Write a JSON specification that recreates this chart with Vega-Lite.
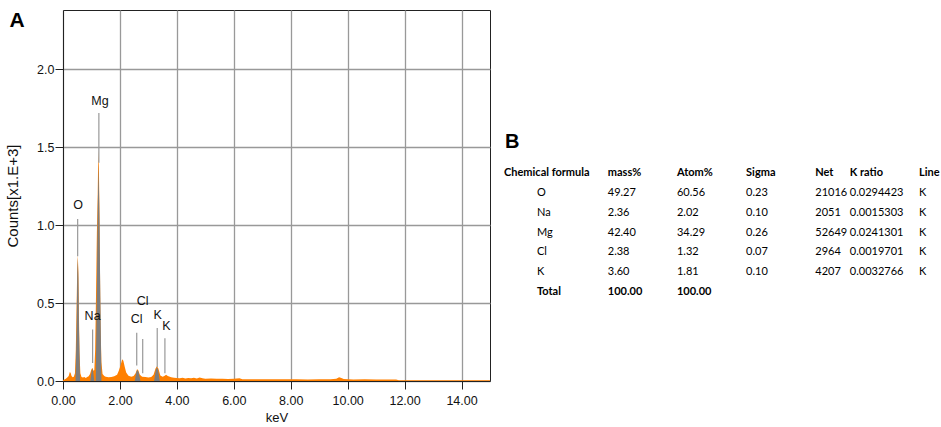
{
  "$schema": "https://vega.github.io/schema/vega-lite/v6.json",
  "background": "white",
  "padding": {"left": 5, "top": 9, "right": 0, "bottom": 0},
  "config": {"font": "Liberation Sans", "view": {"stroke": null}},
  "spacing": 13,
  "datasets": {
    "spectrum": [
      {"keV": 0.0, "counts": 0.006}, {"keV": 0.05, "counts": 0.01}, {"keV": 0.1, "counts": 0.015}, {"keV": 0.15, "counts": 0.022},
      {"keV": 0.2, "counts": 0.032}, {"keV": 0.24, "counts": 0.058}, {"keV": 0.27, "counts": 0.052}, {"keV": 0.3, "counts": 0.032},
      {"keV": 0.34, "counts": 0.024}, {"keV": 0.38, "counts": 0.028}, {"keV": 0.42, "counts": 0.05}, {"keV": 0.45, "counts": 0.2},
      {"keV": 0.48, "counts": 0.5}, {"keV": 0.5, "counts": 0.72}, {"keV": 0.52, "counts": 0.81}, {"keV": 0.54, "counts": 0.7},
      {"keV": 0.56, "counts": 0.42}, {"keV": 0.58, "counts": 0.18}, {"keV": 0.61, "counts": 0.05}, {"keV": 0.65, "counts": 0.025},
      {"keV": 0.7, "counts": 0.022}, {"keV": 0.75, "counts": 0.026}, {"keV": 0.8, "counts": 0.02}, {"keV": 0.85, "counts": 0.025},
      {"keV": 0.9, "counts": 0.03}, {"keV": 0.95, "counts": 0.045}, {"keV": 0.99, "counts": 0.07}, {"keV": 1.03, "counts": 0.085},
      {"keV": 1.07, "counts": 0.065}, {"keV": 1.1, "counts": 0.07}, {"keV": 1.13, "counts": 0.2}, {"keV": 1.16, "counts": 0.55},
      {"keV": 1.19, "counts": 0.95}, {"keV": 1.22, "counts": 1.2}, {"keV": 1.24, "counts": 1.48}, {"keV": 1.26, "counts": 1.38},
      {"keV": 1.28, "counts": 1.1}, {"keV": 1.3, "counts": 0.7}, {"keV": 1.32, "counts": 0.35}, {"keV": 1.35, "counts": 0.12},
      {"keV": 1.39, "counts": 0.045}, {"keV": 1.45, "counts": 0.032}, {"keV": 1.5, "counts": 0.028}, {"keV": 1.6, "counts": 0.024},
      {"keV": 1.7, "counts": 0.026}, {"keV": 1.8, "counts": 0.03}, {"keV": 1.9, "counts": 0.04}, {"keV": 1.96, "counts": 0.065},
      {"keV": 2.02, "counts": 0.1}, {"keV": 2.08, "counts": 0.14}, {"keV": 2.12, "counts": 0.13}, {"keV": 2.17, "counts": 0.09},
      {"keV": 2.22, "counts": 0.055}, {"keV": 2.3, "counts": 0.034}, {"keV": 2.4, "counts": 0.028}, {"keV": 2.48, "counts": 0.032},
      {"keV": 2.55, "counts": 0.05}, {"keV": 2.6, "counts": 0.075}, {"keV": 2.64, "counts": 0.07}, {"keV": 2.7, "counts": 0.04},
      {"keV": 2.78, "counts": 0.028}, {"keV": 2.9, "counts": 0.025}, {"keV": 3.0, "counts": 0.023}, {"keV": 3.1, "counts": 0.025},
      {"keV": 3.18, "counts": 0.04}, {"keV": 3.25, "counts": 0.08}, {"keV": 3.3, "counts": 0.095}, {"keV": 3.35, "counts": 0.08},
      {"keV": 3.42, "counts": 0.035}, {"keV": 3.5, "counts": 0.027}, {"keV": 3.56, "counts": 0.032}, {"keV": 3.62, "counts": 0.04},
      {"keV": 3.68, "counts": 0.032}, {"keV": 3.8, "counts": 0.024}, {"keV": 3.9, "counts": 0.021}, {"keV": 4.0, "counts": 0.02},
      {"keV": 4.1, "counts": 0.018}, {"keV": 4.2, "counts": 0.021}, {"keV": 4.3, "counts": 0.016}, {"keV": 4.4, "counts": 0.02},
      {"keV": 4.5, "counts": 0.017}, {"keV": 4.6, "counts": 0.021}, {"keV": 4.7, "counts": 0.016}, {"keV": 4.8, "counts": 0.022},
      {"keV": 4.9, "counts": 0.017}, {"keV": 5.0, "counts": 0.015}, {"keV": 5.2, "counts": 0.016}, {"keV": 5.4, "counts": 0.014},
      {"keV": 5.6, "counts": 0.015}, {"keV": 5.8, "counts": 0.013}, {"keV": 6.0, "counts": 0.014}, {"keV": 6.2, "counts": 0.018},
      {"keV": 6.3, "counts": 0.012}, {"keV": 6.6, "counts": 0.012}, {"keV": 7.0, "counts": 0.011}, {"keV": 7.4, "counts": 0.012},
      {"keV": 7.8, "counts": 0.011}, {"keV": 8.2, "counts": 0.011}, {"keV": 8.6, "counts": 0.01}, {"keV": 9.0, "counts": 0.011},
      {"keV": 9.4, "counts": 0.012}, {"keV": 9.6, "counts": 0.015}, {"keV": 9.7, "counts": 0.024}, {"keV": 9.78, "counts": 0.02},
      {"keV": 9.86, "counts": 0.013}, {"keV": 10.2, "counts": 0.01}, {"keV": 10.6, "counts": 0.011}, {"keV": 11.0, "counts": 0.01},
      {"keV": 11.4, "counts": 0.01}, {"keV": 11.7, "counts": 0.009}, {"keV": 11.8, "counts": 0.005}, {"keV": 12.5, "counts": 0.005},
      {"keV": 13.5, "counts": 0.005}, {"keV": 15.0, "counts": 0.005}
    ],
    "peaks": [
      {"element": "O", "keV": 0.44, "counts": 0}, {"element": "O", "keV": 0.48, "counts": 0.35}, {"element": "O", "keV": 0.5, "counts": 0.68},
      {"element": "O", "keV": 0.52, "counts": 0.79}, {"element": "O", "keV": 0.54, "counts": 0.66}, {"element": "O", "keV": 0.56, "counts": 0.35},
      {"element": "O", "keV": 0.6, "counts": 0},
      {"element": "Na", "keV": 0.96, "counts": 0}, {"element": "Na", "keV": 1.0, "counts": 0.06}, {"element": "Na", "keV": 1.03, "counts": 0.08},
      {"element": "Na", "keV": 1.06, "counts": 0.06}, {"element": "Na", "keV": 1.1, "counts": 0},
      {"element": "Mg", "keV": 1.15, "counts": 0}, {"element": "Mg", "keV": 1.19, "counts": 0.6}, {"element": "Mg", "keV": 1.22, "counts": 1.1},
      {"element": "Mg", "keV": 1.25, "counts": 1.4}, {"element": "Mg", "keV": 1.28, "counts": 1.05}, {"element": "Mg", "keV": 1.31, "counts": 0.55},
      {"element": "Mg", "keV": 1.35, "counts": 0},
      {"element": "Cl", "keV": 2.52, "counts": 0}, {"element": "Cl", "keV": 2.58, "counts": 0.06}, {"element": "Cl", "keV": 2.62, "counts": 0.07},
      {"element": "Cl", "keV": 2.66, "counts": 0.055}, {"element": "Cl", "keV": 2.72, "counts": 0},
      {"element": "K", "keV": 3.2, "counts": 0}, {"element": "K", "keV": 3.26, "counts": 0.07}, {"element": "K", "keV": 3.3, "counts": 0.09},
      {"element": "K", "keV": 3.34, "counts": 0.07}, {"element": "K", "keV": 3.4, "counts": 0}
    ],
    "labels": [
      {"element": "O", "lineKeV": 0.515, "top": 1.04, "bottom": 0.8, "textKeV": 0.53, "textY": 1.13},
      {"element": "Mg", "lineKeV": 1.26, "top": 1.72, "bottom": 1.4, "textKeV": 1.3, "textY": 1.795},
      {"element": "Na", "lineKeV": 1.04, "top": 0.33, "bottom": 0.115, "textKeV": 1.04, "textY": 0.417},
      {"element": "Cl", "lineKeV": 2.59, "top": 0.31, "bottom": 0.1, "textKeV": 2.59, "textY": 0.4},
      {"element": "Cl", "lineKeV": 2.8, "top": 0.27, "bottom": 0.05, "textKeV": 2.8, "textY": 0.515},
      {"element": "K", "lineKeV": 3.31, "top": 0.34, "bottom": 0.09, "textKeV": 3.33, "textY": 0.425},
      {"element": "K", "lineKeV": 3.58, "top": 0.275, "bottom": 0.05, "textKeV": 3.63, "textY": 0.355}
    ],
    "table": [
      {"formula": "O", "mass%": "49.27", "Atom%": "60.56", "Sigma": "0.23", "Net": "21016", "K ratio": "0.0294423", "Line": "K"},
      {"formula": "Na", "mass%": "2.36", "Atom%": "2.02", "Sigma": "0.10", "Net": "2051", "K ratio": "0.0015303", "Line": "K"},
      {"formula": "Mg", "mass%": "42.40", "Atom%": "34.29", "Sigma": "0.26", "Net": "52649", "K ratio": "0.0241301", "Line": "K"},
      {"formula": "Cl", "mass%": "2.38", "Atom%": "1.32", "Sigma": "0.07", "Net": "2964", "K ratio": "0.0019701", "Line": "K"},
      {"formula": "K", "mass%": "3.60", "Atom%": "1.81", "Sigma": "0.10", "Net": "4207", "K ratio": "0.0032766", "Line": "K"},
      {"formula": "Total", "mass%": "100.00", "Atom%": "100.00"}
    ],
    "columns": [
      {"col": "Chemical formula"}, {"col": "mass%"}, {"col": "Atom%"}, {"col": "Sigma"}, {"col": "Net"}, {"col": "K ratio"}, {"col": "Line"}
    ]
  },
  "hconcat": [
    {
      "width": 427,
      "height": 371,
      "title": {"text": "A", "anchor": "start", "frame": "bounds", "offset": -21, "fontSize": 21, "fontWeight": "bold", "font": "Liberation Sans", "color": "#000", "dx": 4},
      "view": {"stroke": "#222", "strokeWidth": 1},
      "layer": [
        {
          "data": {"name": "spectrum"},
          "mark": {"type": "area", "color": "#ff8000"},
          "encoding": {
            "x": {"field": "keV", "type": "quantitative", "title": "keV",
              "scale": {"domain": [0, 15], "nice": false, "zero": false},
              "axis": {"values": [0, 2, 4, 6, 8, 10, 12, 14], "format": ".2f", "grid": true, "gridColor": "#999", "gridWidth": 1.3,
                "domainColor": "#222", "tickColor": "#222", "tickSize": 8, "labelFontSize": 12.5, "labelColor": "#111", "labelPadding": 5,
                "labelFlush": false, "titleFontSize": 13, "titleFontWeight": "normal", "titleColor": "#111", "titlePadding": 5}},
            "y": {"field": "counts", "type": "quantitative", "title": "Counts[x1.E+3]",
              "scale": {"domain": [0, 2.38], "nice": false},
              "axis": {"values": [0, 0.5, 1, 1.5, 2], "format": ".1f", "grid": true, "gridColor": "#999", "gridWidth": 1.3,
                "domainColor": "#222", "tickColor": "#222", "tickSize": 8, "labelFontSize": 12.5, "labelColor": "#111", "labelPadding": 1,
                "labelFlush": false, "titleFontSize": 15, "titleFontWeight": "normal", "titleColor": "#111", "titlePadding": 16}}
          }
        },
        {
          "data": {"name": "peaks"},
          "mark": {"type": "area", "color": "#7d7d7d"},
          "encoding": {
            "x": {"field": "keV", "type": "quantitative"},
            "y": {"field": "counts", "type": "quantitative"},
            "detail": {"field": "element"}
          }
        },
        {
          "data": {"name": "labels"},
          "mark": {"type": "rule", "color": "#999", "strokeWidth": 1.2},
          "encoding": {
            "x": {"field": "lineKeV", "type": "quantitative"},
            "y": {"field": "top", "type": "quantitative"},
            "y2": {"field": "bottom"}
          }
        },
        {
          "data": {"name": "labels"},
          "mark": {"type": "text", "fontSize": 12.5, "color": "#111"},
          "encoding": {
            "x": {"field": "textKeV", "type": "quantitative"},
            "y": {"field": "textY", "type": "quantitative"},
            "text": {"field": "element"}
          }
        }
      ]
    },
    {
      "width": 415,
      "height": 300,
      "view": {"stroke": null},
      "layer": [
        {
          "data": {"name": "columns"},
          "mark": {"type": "text", "align": "left", "font": "Lato", "fontSize": 11, "fontWeight": "bold", "color": "#000"},
          "encoding": {
            "x": {"field": "col", "type": "nominal", "axis": null,
              "scale": {"type": "point", "padding": 0, "domain": ["Chemical formula", "_1", "_2", "_3", "_4", "_5", "mass%", "_7", "_8", "_9", "Atom%", "_11", "_12", "_13", "Sigma", "_15", "_16", "_17", "Net", "_19", "K ratio", "_21", "_22", "_23", "Line"]}},
            "y": {"datum": "header", "type": "nominal", "axis": null,
              "scale": {"type": "point", "padding": 0, "domain": ["header", "O", "Na", "Mg", "Cl", "K", "Total"], "range": [163, 282]}},
            "text": {"field": "col"}
          }
        },
        {
          "data": {"values": [{"panel": "B"}]},
          "mark": {"type": "text", "align": "left", "font": "Liberation Sans", "fontSize": 20, "fontWeight": "bold", "color": "#000", "dx": 1, "dy": -31},
          "encoding": {
            "x": {"datum": "Chemical formula", "type": "nominal"},
            "y": {"datum": "header", "type": "nominal"},
            "text": {"field": "panel"}
          }
        },
        {
          "data": {"name": "table"},
          "transform": [{"filter": "datum.formula !== 'Total'"}],
          "mark": {"type": "text", "align": "left", "font": "Lato", "fontSize": 11, "color": "#000", "dx": 33},
          "encoding": {
            "x": {"datum": "Chemical formula", "type": "nominal"},
            "y": {"field": "formula", "type": "nominal"},
            "text": {"field": "formula"}
          }
        },
        {
          "data": {"name": "table"},
          "transform": [{"filter": "datum.formula === 'Total'"}],
          "mark": {"type": "text", "align": "left", "font": "Lato", "fontSize": 11, "fontWeight": "bold", "color": "#000", "dx": 33},
          "encoding": {
            "x": {"datum": "Chemical formula", "type": "nominal"},
            "y": {"field": "formula", "type": "nominal"},
            "text": {"field": "formula"}
          }
        },
        {
          "data": {"name": "table"},
          "transform": [
            {"filter": "datum.formula !== 'Total'"},
            {"fold": ["mass%", "Atom%", "Sigma", "Net", "K ratio", "Line"], "as": ["col", "val"]}
          ],
          "mark": {"type": "text", "align": "left", "font": "Lato", "fontSize": 11, "color": "#000"},
          "encoding": {
            "x": {"field": "col", "type": "nominal"},
            "y": {"field": "formula", "type": "nominal"},
            "text": {"field": "val"}
          }
        },
        {
          "data": {"name": "table"},
          "transform": [
            {"filter": "datum.formula === 'Total'"},
            {"fold": ["mass%", "Atom%"], "as": ["col", "val"]}
          ],
          "mark": {"type": "text", "align": "left", "font": "Lato", "fontSize": 11, "fontWeight": "bold", "color": "#000"},
          "encoding": {
            "x": {"field": "col", "type": "nominal"},
            "y": {"field": "formula", "type": "nominal"},
            "text": {"field": "val"}
          }
        }
      ]
    }
  ]
}
